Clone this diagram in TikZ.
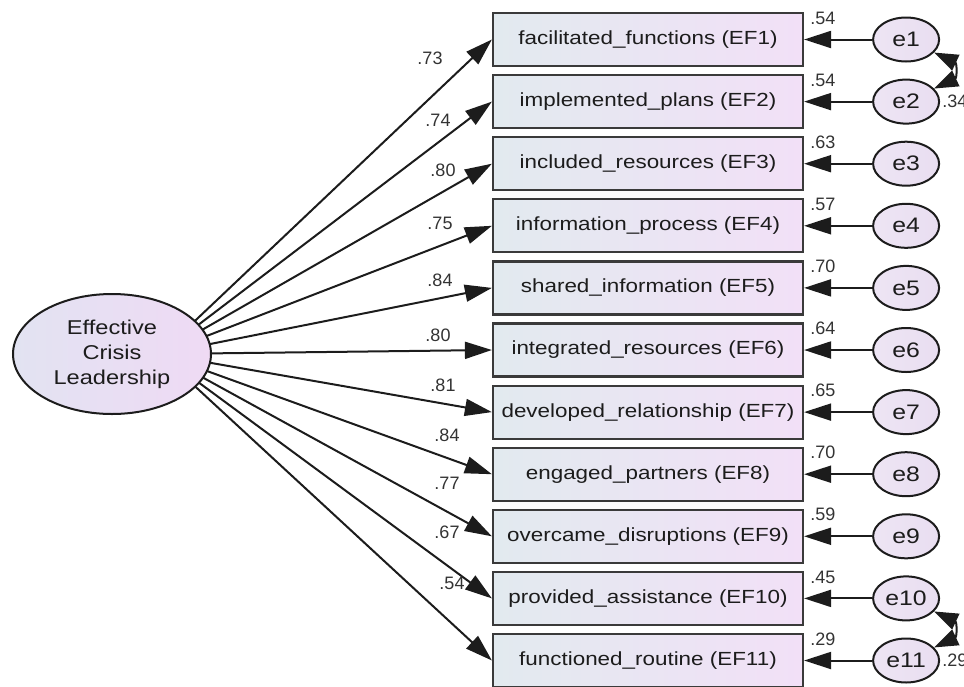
\documentclass[tikz,border=0pt]{standalone}
\usepackage{fontspec}
\setmainfont{Liberation Sans}
\newfontfamily\widefont[FakeStretch=1.18]{Liberation Sans}
\usetikzlibrary{arrows.meta, positioning, shapes.geometric}
\definecolor{ink}{HTML}{1C1C1C}
\definecolor{frame}{HTML}{3A3A3A}
\definecolor{boxleft}{HTML}{E2EAEF}
\definecolor{boxright}{HTML}{F2E0F7}
\definecolor{ovalleft}{HTML}{E2E3F2}
\definecolor{ovalright}{HTML}{EFDAF4}
\definecolor{errfill}{HTML}{E9DEF1}
\definecolor{coefgray}{HTML}{333333}
\tikzset{
  indicator/.style={
    rectangle, draw=frame, line width=2.2pt,
    left color=boxleft, right color=boxright,
    minimum width=310pt, minimum height=53pt, inner sep=0pt,
    font=\widefont\fontsize{19}{22}\selectfont, text=ink
  },
  latent/.style={
    ellipse, draw=ink, line width=2pt,
    left color=ovalleft, right color=ovalright,
    minimum width=198pt, minimum height=120pt, inner sep=0pt,
    align=center, font=\widefont\fontsize{20}{25}\selectfont, text=ink
  },
  errnode/.style={
    ellipse, draw=ink, line width=2pt,
    left color=errfill!80!white, right color=errfill,
    minimum width=66pt, minimum height=44pt, inner sep=0pt,
    font=\widefont\fontsize{21}{24}\selectfont, text=ink
  },
  coef/.style={inner sep=0pt, font=\fontsize{18}{21}\selectfont, text=coefgray},
  arrow/.style={-{Triangle[length=27pt,width=17pt]}, line width=2pt, draw=ink},
  covar/.style={{Triangle[length=24pt,width=17pt]}-{Triangle[length=24pt,width=17pt]},
                line width=2pt, draw=ink},
}
\begin{document}
\begin{tikzpicture}[x=1pt, y=-1pt, node distance=6.9pt]
  \useasboundingbox (0,0) rectangle (964,686);

  \node[indicator] (ef1) at (648,39.5) {facilitated\_functions (EF1)};
  \node[indicator, below=of ef1] (ef2) {implemented\_plans (EF2)};
  \node[indicator, below=of ef2] (ef3) {included\_resources (EF3)};
  \node[indicator, below=of ef3] (ef4) {information\_process (EF4)};
  \node[indicator, below=of ef4] (ef5) {shared\_information (EF5)};
  \node[indicator, below=of ef5] (ef6) {integrated\_resources (EF6)};
  \node[indicator, below=of ef6] (ef7) {developed\_relationship (EF7)};
  \node[indicator, below=of ef7] (ef8) {engaged\_partners (EF8)};
  \node[indicator, below=of ef8] (ef9) {overcame\_disruptions (EF9)};
  \node[indicator, below=of ef9] (ef10) {provided\_assistance (EF10)};
  \node[indicator, below=of ef10] (ef11) {functioned\_routine (EF11)};

  % error terms
  \foreach \i in {1,...,11}
    \node[errnode, right=68pt of ef\i] (e\i) {e\i};

  % factor loadings (fan drawn under the latent oval)
  \coordinate (fan) at (160,354);
  \foreach \i/\v/\lx/\ly in {1/.73/430/58, 2/.74/438/120, 3/.80/443/170, 4/.75/440/223,
      5/.84/440/280, 6/.80/438/335, 7/.81/443/385, 8/.84/447/435, 9/.77/447/483,
      10/.67/447/532, 11/.54/452/583} {
    \draw[arrow] (fan) -- (ef\i.west);
    \node[coef] (l\i) at (\lx,\ly) {\v};
  }
  \node[latent] (ecl) at (112,354) {Effective\\Crisis\\Leadership};

  % error paths
  \foreach \i/\v in {1/.54, 2/.54, 3/.63, 4/.57, 5/.70, 6/.64, 7/.65, 8/.70, 9/.59, 10/.45, 11/.29} {
    \draw[arrow] (e\i) -- (ef\i);
    \node[coef, above right=15pt and 6pt of ef\i.east] (r\i) {\v};
  }

  % covariances
  \draw[covar] (e1) to[out=-25, in=25, looseness=1.8] (e2);
  \draw[covar] (e10) to[out=-25, in=25, looseness=1.8] (e11);
  \node[coef, right=2pt of e2] (c12) {.34};
  \node[coef, right=2pt of e11] (c1011) {.29};
\end{tikzpicture}
\end{document}
